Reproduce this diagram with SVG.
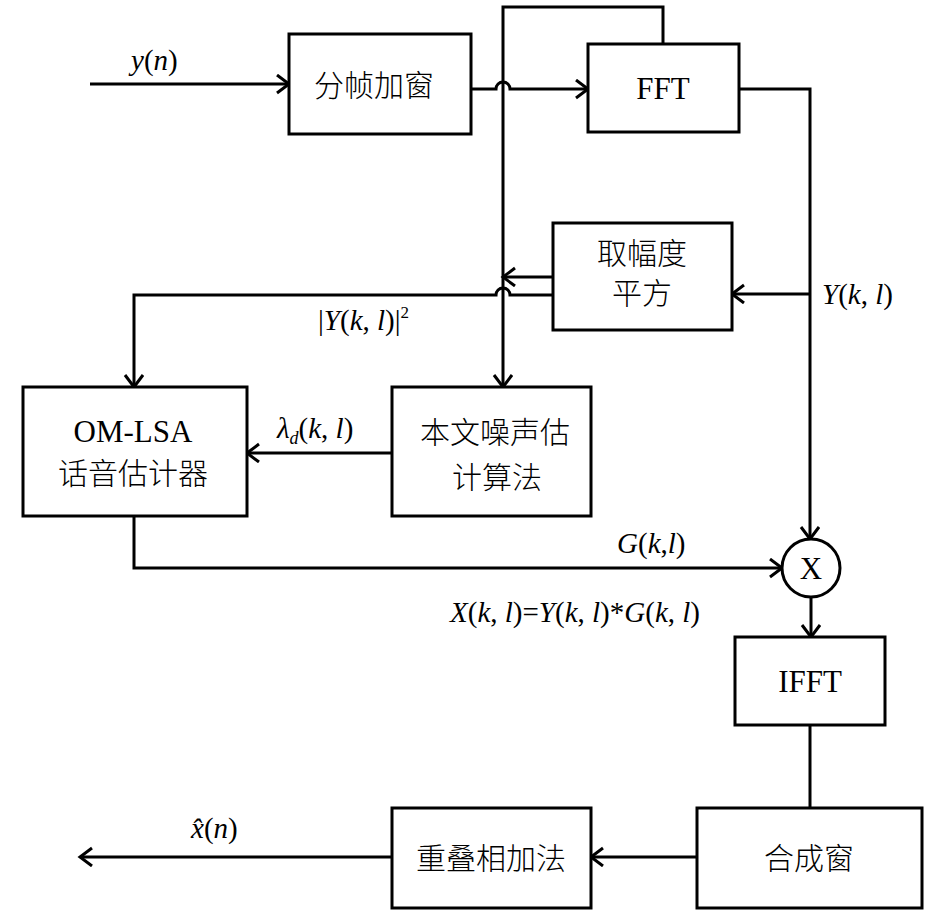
<svg xmlns="http://www.w3.org/2000/svg" width="945" height="914" viewBox="0 0 945 914">
<style>
.box{fill:#fff;stroke:#000;stroke-width:3}
.ln{fill:none;stroke:#000;stroke-width:3}
.zh{font-family:"Noto Sans CJK SC",sans-serif;font-size:30px;font-weight:300;text-anchor:middle;fill:#000}
.en{font-family:"Liberation Serif","Times New Roman",serif;font-size:31px;text-anchor:middle;fill:#000}
.lb{font-family:"Liberation Serif","Times New Roman",serif;font-size:29px;fill:#000}
.i{font-style:italic}
</style>
<defs>
<marker id="arr" markerUnits="userSpaceOnUse" markerWidth="16" markerHeight="22" refX="13" refY="10" orient="auto">
<path d="M1,1 L13,10 L1,19" fill="none" stroke="#000" stroke-width="3"/>
</marker>
</defs>
<rect width="945" height="914" fill="#fff"/>
<g id="connectors">
<path class="ln" d="M90,84 H289" marker-end="url(#arr)"/>
<path class="ln" d="M471,89 H496 A7,7 0 0 1 510,89 H588" marker-end="url(#arr)"/>
<path class="ln" d="M663,44 V7 H503 V387" marker-end="url(#arr)"/>
<path class="ln" d="M739,89 H810 V539" marker-end="url(#arr)"/>
<path class="ln" d="M810,294 H732" marker-end="url(#arr)"/>
<path class="ln" d="M553,277 H503" marker-end="url(#arr)"/>
<path class="ln" d="M553,295 H510 A7,7 0 0 0 496,295 H134 V387" marker-end="url(#arr)"/>
<path class="ln" d="M392,453 H247" marker-end="url(#arr)"/>
<path class="ln" d="M134,516 V568 H782" marker-end="url(#arr)"/>
<path class="ln" d="M811,597 V637" marker-end="url(#arr)"/>
<path class="ln" d="M810,725 V808"/>
<path class="ln" d="M697,857 H591" marker-end="url(#arr)"/>
<path class="ln" d="M392,857 H80" marker-end="url(#arr)"/>
</g>
<g id="framing">
<rect class="box" x="289" y="34" width="182" height="100"/>
<text class="zh" x="374" y="96">分帧加窗</text>
</g>
<g id="fft">
<rect class="box" x="588" y="44" width="151" height="88"/>
<text class="en" x="663" y="99">FFT</text>
</g>
<g id="magsq">
<rect class="box" x="553" y="223" width="179" height="107"/>
<text class="zh" x="642" y="264">取幅度</text>
<text class="zh" x="642" y="304">平方</text>
</g>
<g id="omlsa">
<rect class="box" x="23" y="387" width="224" height="129"/>
<text class="en" x="133" y="442">OM-LSA</text>
<text class="zh" x="133" y="484">话音估计器</text>
</g>
<g id="noise">
<rect class="box" x="392" y="387" width="199" height="129"/>
<text class="zh" x="495" y="443">本文噪声估</text>
<text class="zh" x="497" y="488">计算法</text>
</g>
<g id="mult">
<circle cx="811" cy="568" r="29" fill="#fff" stroke="#000" stroke-width="3"/>
<text class="en" x="811" y="579">X</text>
</g>
<g id="ifft">
<rect class="box" x="735" y="637" width="150" height="88"/>
<text class="en" x="810" y="692">IFFT</text>
</g>
<g id="synth">
<rect class="box" x="697" y="808" width="225" height="100"/>
<text class="zh" x="809" y="869">合成窗</text>
</g>
<g id="ola">
<rect class="box" x="392" y="808" width="199" height="100"/>
<text class="zh" x="491" y="869">重叠相加法</text>
</g>
<g id="labels">
<text class="lb" x="131" y="70"><tspan class="i">y</tspan>(<tspan class="i">n</tspan>)</text>
<text class="lb" x="318" y="330">|<tspan class="i">Y</tspan>(<tspan class="i">k</tspan>, <tspan class="i">l</tspan>)|<tspan font-size="17" dy="-12">2</tspan></text>
<text class="lb" x="277" y="438"><tspan class="i">λ</tspan><tspan class="i" font-size="18" dy="6">d</tspan><tspan dy="-6">(</tspan><tspan class="i">k</tspan>, <tspan class="i">l</tspan>)</text>
<text class="lb" x="822" y="304"><tspan class="i">Y</tspan>(<tspan class="i">k</tspan>, <tspan class="i">l</tspan>)</text>
<text class="lb" x="617" y="553"><tspan class="i">G</tspan>(<tspan class="i">k</tspan>,<tspan class="i">l</tspan>)</text>
<text class="lb" x="450" y="622"><tspan class="i">X</tspan>(<tspan class="i">k</tspan>, <tspan class="i">l</tspan>)=<tspan class="i">Y</tspan>(<tspan class="i">k</tspan>, <tspan class="i">l</tspan>)*<tspan class="i">G</tspan>(<tspan class="i">k</tspan>, <tspan class="i">l</tspan>)</text>
<text class="lb" x="191" y="838"><tspan class="i">x̂</tspan>(<tspan class="i">n</tspan>)</text>
</g>
</svg>
